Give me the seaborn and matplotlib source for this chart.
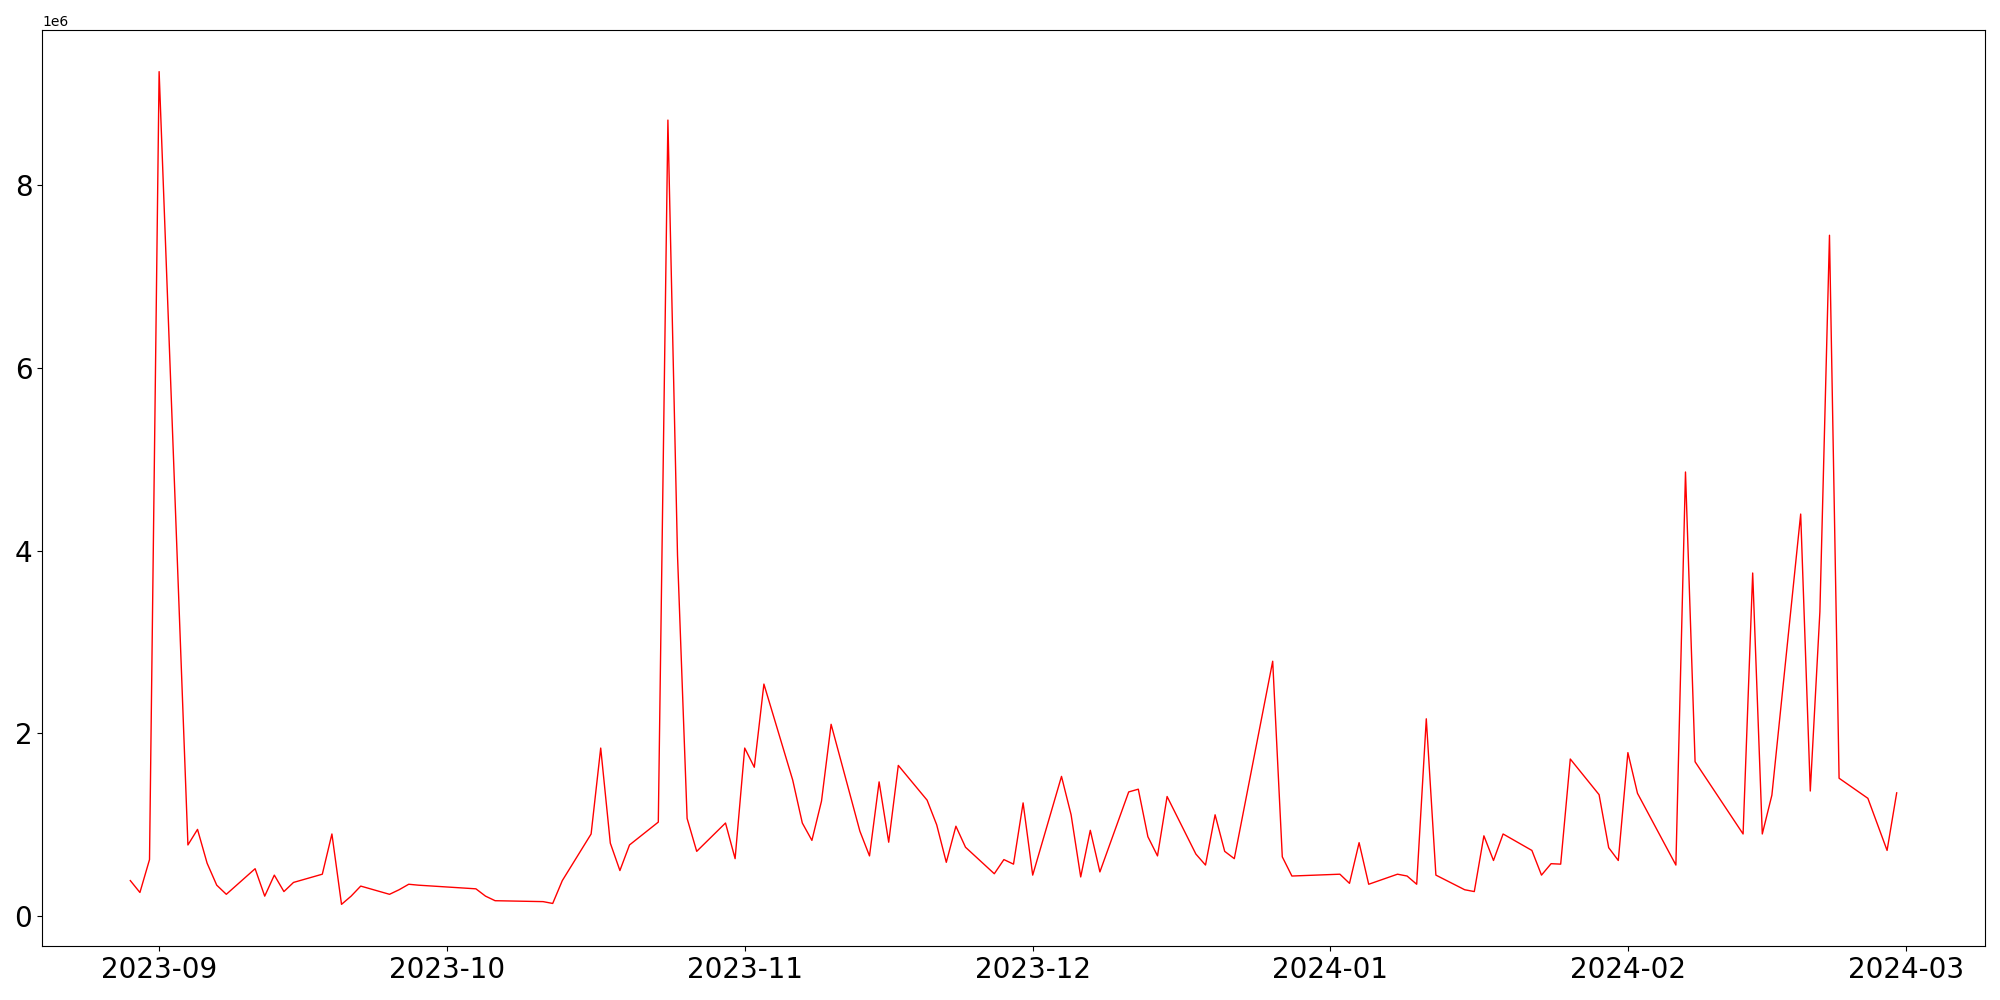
import matplotlib
matplotlib.use("Agg")
import matplotlib.pyplot as plt
import seaborn as sns
import pandas as pd

dates = [
    "2023-08-29", "2023-08-30", "2023-08-31", "2023-09-01", "2023-09-04", "2023-09-05",
    "2023-09-06", "2023-09-07", "2023-09-08", "2023-09-11", "2023-09-12", "2023-09-13",
    "2023-09-14", "2023-09-15", "2023-09-18", "2023-09-19", "2023-09-20", "2023-09-21",
    "2023-09-22", "2023-09-25", "2023-09-26", "2023-09-27", "2023-09-28", "2023-10-04",
    "2023-10-05", "2023-10-06", "2023-10-11", "2023-10-12", "2023-10-13", "2023-10-16",
    "2023-10-17", "2023-10-18", "2023-10-19", "2023-10-20", "2023-10-23", "2023-10-24",
    "2023-10-25", "2023-10-26", "2023-10-27", "2023-10-30", "2023-10-31", "2023-11-01",
    "2023-11-02", "2023-11-03", "2023-11-06", "2023-11-07", "2023-11-08", "2023-11-09",
    "2023-11-10", "2023-11-13", "2023-11-14", "2023-11-15", "2023-11-16", "2023-11-17",
    "2023-11-20", "2023-11-21", "2023-11-22", "2023-11-23", "2023-11-24", "2023-11-27",
    "2023-11-28", "2023-11-29", "2023-11-30", "2023-12-01", "2023-12-04", "2023-12-05",
    "2023-12-06", "2023-12-07", "2023-12-08", "2023-12-11", "2023-12-12", "2023-12-13",
    "2023-12-14", "2023-12-15", "2023-12-18", "2023-12-19", "2023-12-20", "2023-12-21",
    "2023-12-22", "2023-12-26", "2023-12-27", "2023-12-28", "2024-01-02", "2024-01-03",
    "2024-01-04", "2024-01-05", "2024-01-08", "2024-01-09", "2024-01-10", "2024-01-11",
    "2024-01-12", "2024-01-15", "2024-01-16", "2024-01-17", "2024-01-18", "2024-01-19",
    "2024-01-22", "2024-01-23", "2024-01-24", "2024-01-25", "2024-01-26", "2024-01-29",
    "2024-01-30", "2024-01-31", "2024-02-01", "2024-02-02", "2024-02-06", "2024-02-07",
    "2024-02-08", "2024-02-13", "2024-02-14", "2024-02-15", "2024-02-16", "2024-02-19",
    "2024-02-20", "2024-02-21", "2024-02-22", "2024-02-23", "2024-02-26", "2024-02-28",
    "2024-02-29",
]

values_millions = [
    0.39, 0.26, 0.62, 9.24, 0.78, 0.95,
    0.58, 0.34, 0.24, 0.52, 0.22, 0.45,
    0.27, 0.37, 0.46, 0.90, 0.13, 0.22,
    0.33, 0.24, 0.29, 0.35, 0.34, 0.30,
    0.22, 0.17, 0.16, 0.14, 0.39, 0.90,
    1.84, 0.80, 0.50, 0.78, 1.03, 8.71,
    3.95, 1.07, 0.71, 1.02, 0.63, 1.84,
    1.63, 2.54, 1.49, 1.02, 0.83, 1.26,
    2.10, 0.93, 0.66, 1.47, 0.81, 1.65,
    1.27, 1.00, 0.59, 0.985, 0.755, 0.465,
    0.62, 0.57, 1.24, 0.45, 1.53, 1.11,
    0.43, 0.94, 0.485, 1.36, 1.39, 0.87,
    0.66, 1.31, 0.68, 0.56, 1.11, 0.71,
    0.63, 2.79, 0.65, 0.44, 0.46, 0.36,
    0.805, 0.35, 0.46, 0.44, 0.35, 2.16,
    0.45, 0.29, 0.27, 0.88, 0.61, 0.90,
    0.72, 0.45, 0.575, 0.57, 1.72, 1.33,
    0.75, 0.61, 1.79, 1.345, 0.56, 4.86,
    1.69, 0.90, 3.755, 0.90, 1.325, 4.40,
    1.37, 3.33, 7.45, 1.51, 1.29, 0.72,
    1.35,
]

df = pd.DataFrame({
    "date": pd.to_datetime(dates),
    "value": [v * 1e6 for v in values_millions],
})

fig, ax = plt.subplots(figsize=(20, 10), dpi=100)
sns.lineplot(data=df, x="date", y="value", color="red", linewidth=1.0, ax=ax)
ax.set_xlabel("")
ax.set_ylabel("")
ax.tick_params(axis="both", labelsize=20)
ax.yaxis.get_offset_text().set_fontsize(10)
fig.subplots_adjust(left=0.021, right=0.9925, top=0.97, bottom=0.054)
fig.savefig("out.png", dpi=100)
